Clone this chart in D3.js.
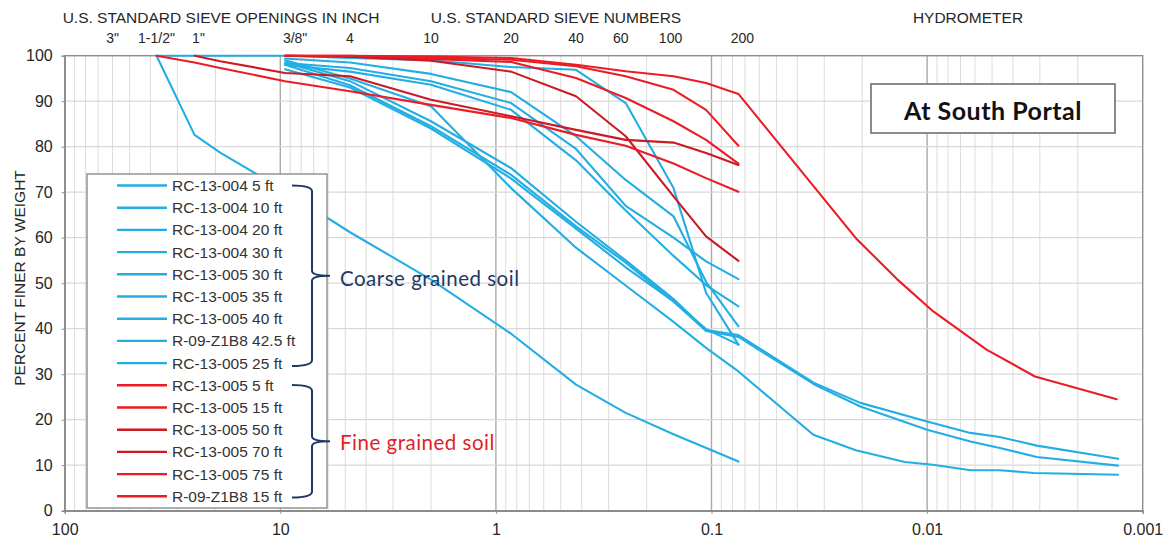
<!DOCTYPE html>
<html><head><meta charset="utf-8">
<script src="https://cdn.jsdelivr.net/npm/d3@7"></script>
<style>
html,body{margin:0;padding:0;background:#fff;}
svg{display:block;font-family:"Liberation Sans",Arial,sans-serif;}
</style></head>
<body><svg id="c" width="1167" height="542"></svg>
<script>
// ---------------- DATA ----------------
const xTickValues = [100, 10, 1, 0.1, 0.01, 0.001];
const xTickLabels = ["100", "10", "1", "0.1", "0.01", "0.001"];
const yTickValues = [0, 10, 20, 30, 40, 50, 60, 70, 80, 90, 100];
const sieveLabels = ['3"', '1-1/2"', '1"', '3/8"', '4', '10', '20', '40', '60', '100', '200'];
const sieveSizesMm = [75, 37.5, 25, 9.5, 4.75, 2.0, 0.85, 0.425, 0.25, 0.15, 0.075];
const headerLabels = ["U.S. STANDARD SIEVE OPENINGS IN INCH", "U.S. STANDARD SIEVE NUMBERS", "HYDROMETER"];

const seriesNames = ["RC-13-004 5 ft", "RC-13-004 10 ft", "RC-13-004 20 ft", "RC-13-004 30 ft",
  "RC-13-005 30 ft", "RC-13-005 35 ft", "RC-13-005 40 ft", "R-09-Z1B8 42.5 ft", "RC-13-005 25 ft",
  "RC-13-005 5 ft", "RC-13-005 15 ft", "RC-13-005 50 ft", "RC-13-005 70 ft", "RC-13-005 75 ft", "R-09-Z1B8 15 ft"];
const seriesGroup = ["coarse","coarse","coarse","coarse","coarse","coarse","coarse","coarse","coarse",
  "fine","fine","fine","fine","fine","fine"];

// [grain size mm, percent finer]
const rc13004_5ft  = [[9.5,98.4],[4.75,97.3],[2,94.4],[0.85,89.6],[0.425,79.5],[0.25,67],[0.15,60],[0.106,54.8],[0.075,50.9]];
const rc13004_10ft = [[9.5,98.0],[4.75,96.5],[2,93.6],[0.85,88.1],[0.425,77],[0.25,66],[0.15,56],[0.106,49.6],[0.075,44.9]];
const rc13004_20ft = [[9.5,99.4],[4.75,98.5],[2,96],[0.85,92],[0.425,82.3],[0.25,72.7],[0.15,64.7],[0.106,50.3],[0.075,40.5]];
const rc13004_30ft = [[37.5,100],[25,100],[19,100],[9.5,100],[4.75,99.5],[2,99],[0.85,97.5],[0.425,96.9],[0.25,89.6],[0.15,70.9],[0.106,47.9],[0.075,36.5]];
const rc13005_30ft = [[9.5,98.5],[4.75,94.4],[2,85.6],[0.85,75.3],[0.425,63.5],[0.25,55],[0.15,46.5],[0.106,39.7],[0.075,38.6],
  [0.0335,28.1],[0.0204,23.7],[0.01,19.6],[0.0063,17.1],[0.0046,16.2],[0.0031,14.3],[0.0013,11.4]];
const rc13005_35ft = [[9.5,98.0],[4.75,93.5],[2,84.5],[0.85,73.8],[0.425,62.5],[0.25,54.5],[0.15,46],[0.106,39.5],[0.075,38.2],
  [0.0335,27.8],[0.0204,22.9],[0.01,17.8],[0.0063,15.2],[0.0046,13.8],[0.0031,11.8],[0.0013,9.9]];
const rc13005_40ft = [[9.5,99],[4.75,95],[2,88.9],[0.85,70.9],[0.425,57.8],[0.25,49.5],[0.15,41.5],[0.106,35.8],[0.075,30.6],
  [0.0337,16.7],[0.0214,13.3],[0.0127,10.7],[0.0094,10.1],[0.0063,8.9],[0.0046,8.9],[0.0032,8.3],[0.0013,7.9]];
const r09z1b8_42_5ft = [[37.5,100],[25,82.6],[19,78.7],[9.5,70.3],[4.75,61.2],[2,50.8],[0.85,38.9],[0.425,27.7],[0.25,21.5],[0.15,16.8],[0.075,10.8]];
const rc13005_25ft = [[9.5,97],[4.75,93],[2,84],[0.85,73],[0.425,62],[0.25,53.5],[0.15,46],[0.106,39.9],[0.075,36.5]];

const rc13005_5ft  = [[9.5,100],[4.75,100],[2,99.5],[0.85,99.1],[0.425,97.7],[0.25,95.5],[0.15,92.5],[0.106,88.1],[0.075,80.2]];
const rc13005_15ft = [[9.5,100],[4.75,99.8],[2,99.3],[0.85,98.6],[0.425,95.1],[0.25,90.7],[0.15,85.6],[0.106,81.5],[0.075,76.3]];
const rc13005_50ft = [[9.5,100],[4.75,99.8],[2,98.9],[0.85,96.5],[0.425,91.1],[0.25,82.3],[0.15,69.1],[0.106,60.3],[0.075,54.9]];
const rc13005_70ft = [[25,100],[19,98.8],[9.5,96.2],[4.75,95.5],[2,90.3],[0.85,86.7],[0.425,83.7],[0.25,81.5],[0.15,80.9],[0.106,78.6],[0.075,76.0]];
const rc13005_75ft = [[37.5,100],[25,98.5],[19,97.3],[9.5,94.4],[4.75,92.2],[2,89.2],[0.85,86.3],[0.425,82.6],[0.25,80.2],[0.15,76.3],[0.106,73.1],[0.075,70.1]];
const r09z1b8_15ft = [[9.5,100],[4.75,100],[2,99.8],[0.85,99.5],[0.425,98],[0.25,96.6],[0.15,95.5],[0.106,94],[0.075,91.6],
  [0.0214,59.9],[0.0138,50.9],[0.00936,43.8],[0.0053,35.4],[0.00316,29.5],[0.00132,24.5]];

const seriesValues = [rc13004_5ft, rc13004_10ft, rc13004_20ft, rc13004_30ft, rc13005_30ft, rc13005_35ft,
  rc13005_40ft, r09z1b8_42_5ft, rc13005_25ft, rc13005_5ft, rc13005_15ft, rc13005_50ft, rc13005_70ft,
  rc13005_75ft, r09z1b8_15ft];

const groupLabels = {coarse: "Coarse grained soil", fine: "Fine grained soil"};
const titleText = "At South Portal";
const yAxisTitle = "PERCENT FINER BY WEIGHT";

// ---------------- STYLE / LAYOUT ----------------
const BLUE = "#22aee3", RED = "#ec1c24", DARKRED = "#cc1a22", NAVY = "#1f3864";
const seriesColors = seriesNames.map((n, i) => seriesGroup[i] === "coarse" ? BLUE :
  (n === "RC-13-005 50 ft" || n === "RC-13-005 70 ft") ? DARKRED : RED);

const svg = d3.select("#c");
const L = 64.7, R = 1142.7, T = 55.7, B = 510.7;
const x = d3.scaleLog().domain([100, 0.001]).range([L, R]);
const y = d3.scaleLinear().domain([0, 100]).range([B, T]);

// grid
const grid = svg.append("g");
const minor = [];
for (let k = -3; k <= 1; k++) for (let m = 1; m <= 9; m++) {
  const v = m * Math.pow(10, k);
  if (v > 0.001 * 1.0001 && v < 100 * 0.9999) minor.push({v, major: m === 1});
}
grid.selectAll("line.v").data(minor).join("line")
  .attr("x1", d => x(d.v)).attr("x2", d => x(d.v)).attr("y1", T).attr("y2", B)
  .attr("stroke", d => d.major ? "#a9a9a9" : "#dcdcdc").attr("stroke-width", d => d.major ? 1.4 : 1);
grid.selectAll("line.h").data(yTickValues.slice(1, -1)).join("line")
  .attr("x1", L).attr("x2", R).attr("y1", d => y(d)).attr("y2", d => y(d))
  .attr("stroke", "#d9d9d9").attr("stroke-width", 1.2);

// frame
svg.append("rect").attr("x", L).attr("y", T).attr("width", R - L).attr("height", B - T)
  .attr("fill", "none").attr("stroke", "#8c8c8c").attr("stroke-width", 1.4);

// axes
const xAxis = d3.axisBottom(x).tickValues(xTickValues).tickFormat((d, i) => xTickLabels[i]).tickSize(3);
const gx = svg.append("g").attr("transform", `translate(0,${B})`).call(xAxis);
const yAxis = d3.axisLeft(y).tickValues(yTickValues).tickSize(3).tickPadding(9);
const gy = svg.append("g").attr("transform", `translate(${L},0)`).call(yAxis);
[gx, gy].forEach(g => {
  g.select(".domain").attr("stroke", "#8c8c8c").attr("stroke-width", 1.4);
  g.selectAll(".tick line").attr("stroke", "#8c8c8c");
  g.selectAll("text").attr("font-size", 16).attr("fill", "#262626").attr("font-family", "Liberation Sans, Arial, sans-serif");
});
gx.selectAll(".tick text").attr("y", 24.5).attr("dy", null);

svg.append("text").attr("transform", `translate(25,278) rotate(-90)`)
  .attr("text-anchor", "middle").attr("font-size", 15.5).attr("fill", "#262626").text(yAxisTitle);

// header labels
const headerX = [221, 556, 968];
svg.selectAll("text.hdr").data(headerLabels).join("text").attr("class", "hdr")
  .attr("x", (d, i) => headerX[i]).attr("y", 23).attr("text-anchor", "middle")
  .attr("font-size", 15.5).attr("fill", "#262626").text(d => d);
const labelNudge = {'3"': 21, '1"': 4, '3/8"': 10, '60': -5, '100': -3, '200': 4};
svg.selectAll("text.sv").data(sieveLabels).join("text").attr("class", "sv")
  .attr("x", (d, i) => x(sieveSizesMm[i]) + (labelNudge[d] || 0)).attr("y", 43).attr("text-anchor", "middle")
  .attr("font-size", 14).attr("fill", "#262626").text(d => d);

// series
const line = d3.line().x(d => x(d[0])).y(d => y(d[1]));
svg.append("g").selectAll("path").data(seriesValues).join("path")
  .attr("d", line).attr("fill", "none")
  .attr("stroke", (d, i) => seriesColors[i]).attr("stroke-width", 2.1)
  .attr("stroke-linejoin", "round").attr("stroke-linecap", "round");

// legend
const lg = svg.append("g");
lg.append("rect").attr("x", 87).attr("y", 174).attr("width", 240).attr("height", 334)
  .attr("fill", "#fff").attr("stroke", "#8c8c8c").attr("stroke-width", 1.4);
const rowY = i => 185.5 + i * 22.2;
lg.selectAll("line").data(seriesNames).join("line")
  .attr("x1", 117).attr("x2", 167).attr("y1", (d, i) => rowY(i)).attr("y2", (d, i) => rowY(i))
  .attr("stroke", (d, i) => seriesColors[i]).attr("stroke-width", 2.4);
lg.selectAll("text").data(seriesNames).join("text")
  .attr("x", 172).attr("y", (d, i) => rowY(i) + 5.5).attr("font-size", 15.5).attr("fill", "#333").text(d => d);

// braces
function brace(x0, y0, y1, tip) {
  const xm = x0 + 20, ym = (y0 + y1) / 2;
  return `M${x0},${y0} Q${xm},${y0} ${xm},${y0 + 6} L${xm},${ym - 5} Q${xm},${ym} ${xm + tip},${ym}` +
         ` Q${xm},${ym} ${xm},${ym + 5} L${xm},${y1 - 6} Q${xm},${y1} ${x0},${y1}`;
}
svg.append("path").attr("d", brace(292, 185.5, 366, 18)).attr("fill", "none").attr("stroke", NAVY).attr("stroke-width", 2);
svg.append("path").attr("d", brace(292, 385, 497.5, 18)).attr("fill", "none").attr("stroke", NAVY).attr("stroke-width", 2);
svg.append("text").attr("x", 340).attr("y", 285.5).attr("font-family", "Lato, 'Open Sans', sans-serif")
  .attr("font-size", 20.5).attr("letter-spacing", 0.5).attr("fill", NAVY).text(groupLabels.coarse);
svg.append("text").attr("x", 340).attr("y", 450).attr("font-family", "Lato, 'Open Sans', sans-serif")
  .attr("font-size", 20.5).attr("letter-spacing", 0.5).attr("fill", "#e31e26").text(groupLabels.fine);

// title box
svg.append("rect").attr("x", 871).attr("y", 84).attr("width", 244).attr("height", 49)
  .attr("fill", "#fff").attr("stroke", "#7f7f7f").attr("stroke-width", 1.8);
svg.append("text").attr("x", 993).attr("y", 120).attr("text-anchor", "middle")
  .attr("font-family", "Lato, 'Open Sans', sans-serif").attr("font-weight", "bold")
  .attr("font-size", 25).attr("letter-spacing", 0.5).attr("fill", "#111").text(titleText);
</script></body></html>
